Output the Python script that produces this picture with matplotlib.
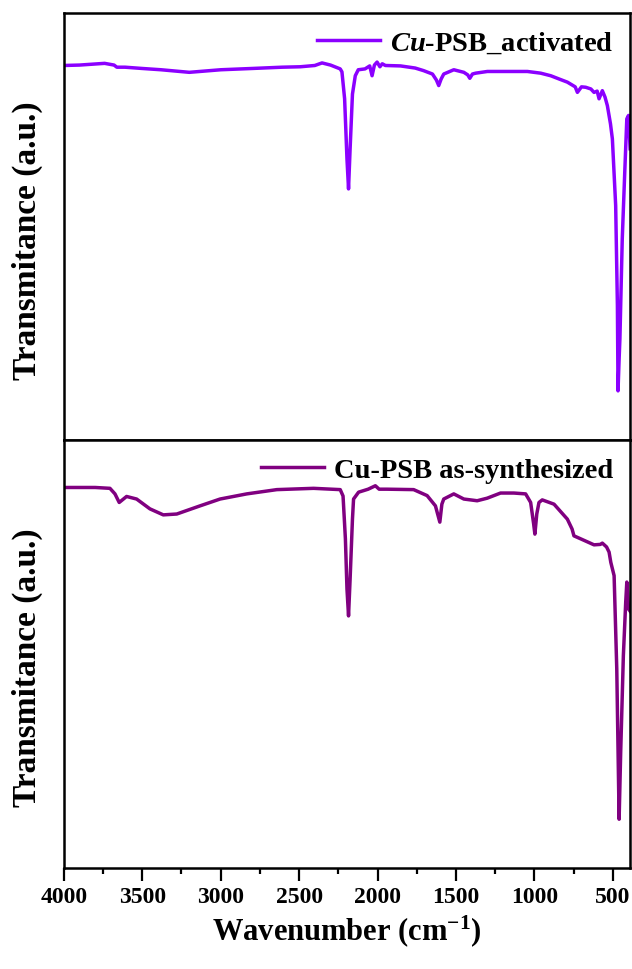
import numpy as np
import matplotlib
matplotlib.use('Agg')
import matplotlib.pyplot as plt
from matplotlib.ticker import MultipleLocator

plt.rcParams['font.family'] = 'Liberation Serif'
plt.rcParams['font.weight'] = 'bold'
plt.rcParams['mathtext.fontset'] = 'custom'
plt.rcParams['mathtext.rm'] = 'Liberation Serif:bold'
plt.rcParams['mathtext.it'] = 'Liberation Serif:italic:bold'
plt.rcParams['mathtext.bf'] = 'Liberation Serif:bold'

# FTIR spectra, wavenumber (cm-1) vs transmittance (a.u.)
wn_activated = [4000, 3900, 3740, 3680, 3662, 3610, 3500, 3380, 3200, 3000, 2800, 2608,
                2493, 2400, 2354, 2300, 2238, 2227, 2210, 2195, 2185, 2175, 2160, 2142,
                2123, 2080, 2050, 2035, 2020, 2003, 1985, 1970, 1950, 1854, 1760, 1707,
                1650, 1625, 1610, 1595, 1578, 1514, 1450, 1425, 1412, 1395, 1375, 1300,
                1216, 1045, 960, 896, 840, 790, 740, 726, 700, 673, 640, 620, 600, 588,
                567, 550, 535, 515, 503, 482, 471, 467, 460, 455, 440, 424, 411, 400, 390]
t_activated = [87.7, 87.8, 88.2, 87.8, 87.3, 87.3, 87.0, 86.7, 86.1, 86.7, 87.0, 87.3,
               87.4, 87.7, 88.3, 87.8, 86.9, 86.2, 79.9, 65.8, 58.8, 68.2, 81.0, 85.3,
               86.7, 86.9, 87.6, 85.3, 87.8, 88.5, 87.4, 88.1, 87.7, 87.6, 87.1, 86.5,
               85.7, 84.3, 83.0, 84.5, 85.7, 86.7, 86.1, 85.5, 84.7, 85.7, 85.9, 86.3,
               86.3, 86.3, 85.9, 85.3, 84.5, 83.8, 82.7, 81.4, 82.7, 82.6, 82.2, 81.4, 81.7, 79.9,
               81.8, 80.3, 78.3, 74.0, 70.5, 54.9, 31.5, 11.5, 19.0, 23.7, 47.1, 62.8, 75.2, 76.0, 68.2]

wn_synth = [4000, 3800, 3706, 3674, 3647, 3600, 3536, 3451, 3366, 3280, 3132, 3004,
            2834, 2642, 2408, 2238, 2220, 2205, 2195, 2185, 2175, 2160, 2153, 2121,
            2060, 2014, 1990, 1940, 1770, 1684, 1631, 1603, 1590, 1578, 1514, 1450,
            1365, 1301, 1216, 1131, 1056, 1024, 1005, 997, 985, 971, 950, 875, 790,
            760, 748, 705, 620, 580, 567, 540, 524, 513, 492, 475, 460, 450, 433,
            418, 411, 400, 386]
t_synth = [88.9, 88.9, 88.7, 87.4, 85.4, 86.8, 86.2, 83.9, 82.5, 82.7, 84.6, 86.2,
           87.4, 88.4, 88.7, 88.4, 86.9, 76.9, 65.2, 58.9, 67.5, 81.5, 86.2, 87.8,
           88.5, 89.3, 88.5, 88.5, 88.4, 87.0, 84.6, 80.8, 85.0, 86.2, 87.4, 86.2,
           85.8, 86.4, 87.6, 87.6, 87.4, 85.4, 80.4, 78.0, 82.7, 85.4, 86.0, 85.0, 81.5,
           79.2, 77.6, 76.9, 75.5, 75.6, 75.9, 75.0, 73.8, 71.4, 68.3, 46.5, 11.4, 27.1, 49.6,
           62.1, 66.8, 60.5, 59.8]

fig = plt.figure(figsize=(6.32, 9.70), dpi=100)
ax1 = fig.add_axes([0.101, 0.5454, 0.896, 0.4402])
ax2 = fig.add_axes([0.101, 0.1041, 0.896, 0.4413], sharex=ax1)

ax1.plot(wn_activated, t_activated, color='#8B00FF', lw=2.5, label=r'$\mathit{Cu}$-PSB_activated')
ax2.plot(wn_synth, t_synth, color='#800080', lw=2.5, label='Cu-PSB as-synthesized')

for ax in (ax1, ax2):
    ax.set_ylim(0, 100)
    ax.set_yticks([])
    for s in ax.spines.values():
        s.set_linewidth(1.8)
    ax.set_ylabel('Transmitance (a.u.)', fontsize=24, fontweight='bold')
    ax.yaxis.set_label_coords(-0.037, 0.47)
    ax.legend(loc='upper right', frameon=False, fontsize=20.5, handlelength=2.2,
              borderaxespad=0.2, handletextpad=0.35)

ax1.set_xlim(4000, 390)
ax1.tick_params(axis='x', which='both', bottom=False, labelbottom=False)

ax2.xaxis.set_major_locator(MultipleLocator(500))
ax2.xaxis.set_minor_locator(MultipleLocator(250))
ax2.tick_params(axis='x', which='major', direction='out', length=9, width=1.6,
                labelsize=17, pad=4)
ax2.tick_params(axis='x', which='minor', direction='out', length=4.5, width=1.6)
for lbl in ax2.get_xticklabels():
    lbl.set_fontweight('bold')
ax2.set_xlabel('Wavenumber (cm$^{-1}$)', fontsize=22, fontweight='bold', labelpad=4)

fig.savefig('out.png', dpi=100)
